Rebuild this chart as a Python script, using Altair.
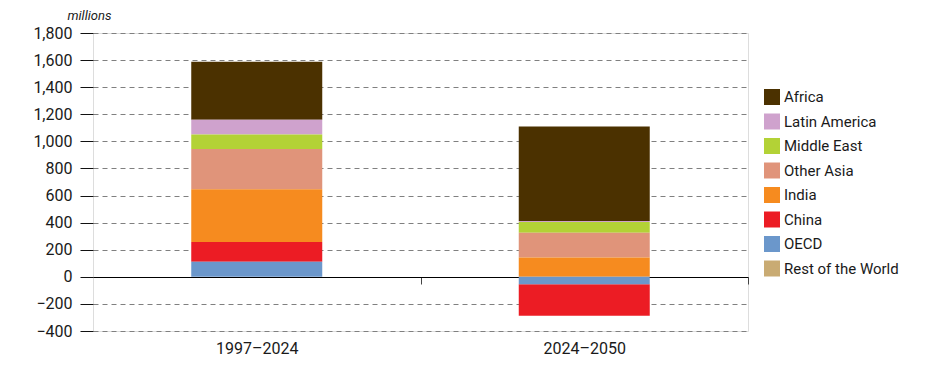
import altair as alt
import pandas as pd

periods = ["1997\u20132024", "2024\u20132050"]
regions = ["Africa", "Latin America", "Middle East", "Other Asia", "India", "China", "OECD", "Rest of the World"]
colors = ["#4b3100", "#cfa2cd", "#b3d236", "#e0947a", "#f68b1f", "#ec1c24", "#6b97cb", "#c9ab73"]
stack_order = ["OECD", "China", "India", "Other Asia", "Middle East", "Latin America", "Africa", "Rest of the World"]

africa = [429, 697]
latin_america = [109, 8]
middle_east = [106, 79]
other_asia = [298, 182]
india = [389, 143]
china = [146, -234]
oecd = [111, -54]
rest_of_world = [0, 0]

series = {
    "Africa": africa,
    "Latin America": latin_america,
    "Middle East": middle_east,
    "Other Asia": other_asia,
    "India": india,
    "China": china,
    "OECD": oecd,
    "Rest of the World": rest_of_world,
}

rows = []
for r, vals in series.items():
    for p, v in zip(periods, vals):
        rows.append({"period": p, "region": r, "value": v, "ord": stack_order.index(r)})
df = pd.DataFrame(rows)

FONT = "Roboto"

bars = alt.Chart(df).mark_bar().encode(
    x=alt.X(
        "period:N",
        sort=periods,
        scale=alt.Scale(paddingInner=0.6, paddingOuter=0.3),
        axis=alt.Axis(
            title=None,
            labelAngle=0,
            labelFontSize=16,
            labelColor="#1a1a1a",
            labelFont=FONT,
            labelBaseline="top",
            offset=-54,
            domain=True,
            domainColor="#000000",
            domainWidth=1.2,
            ticks=True,
            tickOffset=164,
            labelOffset=-164,
            tickSize=7,
            tickColor="#444444",
            labelPadding=56,
            grid=False,
        ),
    ),
    y=alt.Y(
        "value:Q",
        stack="zero",
        scale=alt.Scale(domain=[-400, 1800], nice=False),
        axis=alt.Axis(
            values=list(range(-400, 1801, 200)),
            format=",.0f",
            title="millions",
            titleAngle=0,
            titleAlign="left",
            titleBaseline="middle",
            titleX=-26,
            titleY=-18,
            titleFont=FONT,
            titleFontStyle="italic",
            titleFontWeight="normal",
            titleFontSize=13,
            titleColor="#1a1a1a",
            labelFontSize=16,
            labelFont=FONT,
            labelColor="#1a1a1a",
            labelPadding=8,
            tickSize=13,
            tickColor="#111111",
            domain=False,
            grid=True,
            gridColor="#808080",
            gridDash=[5, 4],
            gridWidth=1,
        ),
    ),
    color=alt.Color(
        "region:N",
        scale=alt.Scale(domain=regions, range=colors),
        legend=alt.Legend(
            title=None,
            orient="none",
            legendX=671,
            legendY=56,
            symbolType="square",
            symbolSize=256,
            symbolStrokeWidth=0,
            symbolOpacity=1,
            labelFontSize=15,
            labelFont=FONT,
            labelColor="#1a1a1a",
            rowPadding=8.5,
            labelOffset=4,
        ),
    ),
    order=alt.Order("ord:Q", sort="ascending"),
)

chart = bars.properties(
    width=655,
    height=298,
    autosize=alt.AutoSizeParams(type="none"),
    padding={"left": 85, "top": 25, "right": 160, "bottom": 30},
).configure_view(
    stroke="#555555",
    strokeWidth=1,
).configure(background="white")

chart.save("out.html", embed_options={"renderer": "svg", "actions": False})
